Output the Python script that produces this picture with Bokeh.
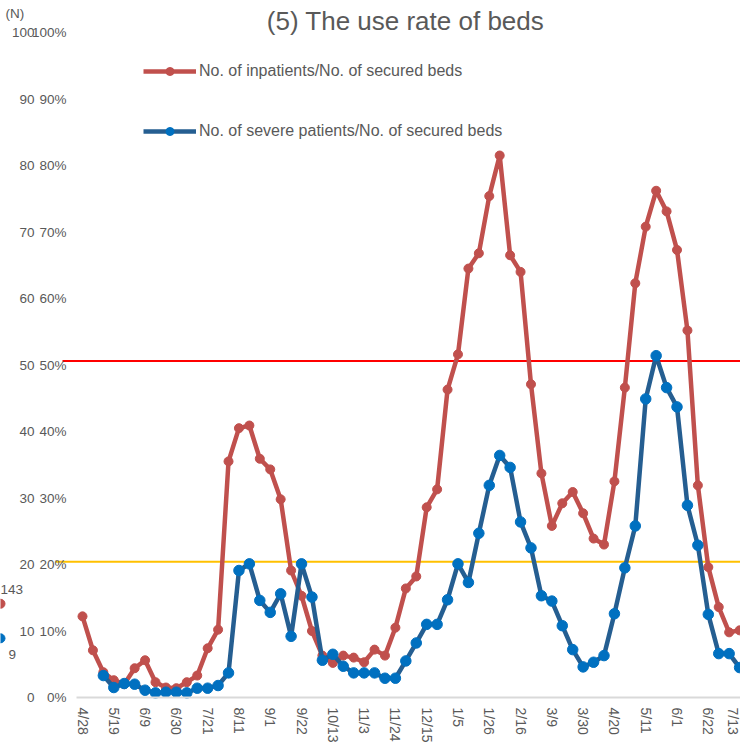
from bokeh.plotting import figure
from bokeh.models import (Range1d, LinearAxis, FixedTicker, Label,
                          Legend, LegendItem, ColumnDataSource)
from bokeh.embed import file_html
from bokeh.resources import INLINE

# ---- data -------------------------------------------------------------
date_labels = ["4/28", "5/19", "6/9", "6/30", "7/21", "8/11", "9/1", "9/22",
               "10/13", "11/3", "11/24", "12/15", "1/5", "1/26", "2/16", "3/9",
               "3/30", "4/20", "5/11", "6/1", "6/22", "7/13"]
label_weeks = [0, 3, 6, 9, 12, 15, 18, 21, 24, 27, 30, 33, 36, 39, 42, 45,
               48, 51, 54, 57, 60, 63]

weeks = list(range(64))
inpatient_rate = [12.2, 7.1, 3.8, 2.6, 2.0, 4.4, 5.6, 2.3, 1.5, 1.4, 2.3, 3.3,
                  7.4, 10.2, 35.5, 40.5, 40.9, 35.9, 34.3, 29.8, 19.1, 15.3,
                  10.0, 6.3, 5.2, 6.3, 6.0, 5.3, 7.2, 6.3, 10.5, 16.4, 18.2,
                  28.6, 31.3, 46.3, 51.6, 64.5, 66.8, 75.4, 81.5, 66.5, 64.0,
                  47.1, 33.7, 25.8, 29.2, 30.9, 27.7, 23.9, 23.0, 32.5, 46.6,
                  62.3, 70.8, 76.2, 73.1, 67.3, 55.2, 31.9, 19.6, 13.6, 9.8, 10.1]

severe_weeks = list(range(2, 64))
severe_rate = [3.3, 1.5, 2.1, 2.0, 1.1, 0.7, 0.8, 0.8, 0.7, 1.4, 1.4, 1.8,
               3.7, 19.1, 20.1, 14.6, 12.8, 15.6, 9.2, 20.1, 15.1, 5.6, 6.5,
               4.7, 3.7, 3.7, 3.7, 2.9, 2.9, 5.5, 8.2, 11.0, 11.0, 14.7, 20.1,
               17.3, 24.7, 31.9, 36.4, 34.6, 26.4, 22.5, 15.3, 14.5, 10.8, 7.2,
               4.6, 5.3, 6.3, 12.6, 19.5, 25.8, 44.9, 51.4, 46.6, 43.7, 28.9,
               22.9, 12.5, 6.6, 6.6, 4.5]

pct_ticks = [0, 10, 20, 30, 40, 50, 60, 70, 80, 90, 100]
pct_labels = ["0%", "10%", "20%", "30%", "40%", "50%", "60%", "70%", "80%", "90%", "100%"]
n_labels = ["0", "10", "20", "30", "40", "50", "60", "70", "80", "90", "100"]

threshold_high = 50.6
threshold_low = 20.4

series_names = ["No. of inpatients/No. of secured beds",
                "No. of severe patients/No. of secured beds"]
side_texts = ["143", "9"]
side_levels = [14.1, 8.9]

# ---- style / layout constants -------------------------------------------
FONT = "Liberation Sans"
GREY = "#595959"
RED = "#C0504D"
BLUE_LINE = "#255E91"
BLUE_DOT = "#0070C0"

FIG_W, FIG_H = 740, 750
PX_WEEK = 10.43          # horizontal pixels per week
X0_PX = 82               # canvas x of the first week
PX_PCT = 6.65            # vertical pixels per percentage point
Y0_PX = 697              # canvas y (from top) of 0 %

x_start = -X0_PX / PX_WEEK
x_end = (FIG_W - X0_PX) / PX_WEEK
y_end = Y0_PX / PX_PCT
y_start = -(FIG_H - Y0_PX) / PX_PCT

plot_left = x_start + 76 / PX_WEEK      # left edge of the plotting area
n_axis_at = x_start + 34 / PX_WEEK      # position of the count axis
red_line_from = x_start + 62 / PX_WEEK
yellow_line_from = x_start + 55 / PX_WEEK

# ---- figure -----------------------------------------------------------
p = figure(width=FIG_W, height=FIG_H, output_backend="svg", toolbar_location=None,
           x_range=Range1d(x_start, x_end), y_range=Range1d(y_start, y_end),
           min_border=0)
p.outline_line_color = None
p.xgrid.grid_line_color = None
p.ygrid.grid_line_color = None
p.background_fill_color = "white"
p.border_fill_color = "white"


def clean(axis):
    axis.axis_label = None
    axis.major_tick_out = 0
    axis.major_tick_in = 0
    axis.minor_tick_out = 0
    axis.minor_tick_in = 0
    axis.major_label_text_font = FONT
    axis.major_label_text_color = GREY


# x axis
xa = p.xaxis[0]
clean(xa)
xa.fixed_location = 0
xa.bounds = (plot_left, x_end)
xa.ticker = FixedTicker(ticks=label_weeks)
xa.major_label_overrides = {w: s for w, s in zip(label_weeks, date_labels)}
xa.major_label_orientation = "vertical"
xa.major_label_text_font_size = "14px"
xa.major_label_standoff = 10
xa.axis_line_color = "#D9D9D9"
xa.axis_line_width = 2

# percentage axis
ya = p.yaxis[0]
clean(ya)
ya.fixed_location = plot_left
ya.ticker = FixedTicker(ticks=pct_ticks)
ya.major_label_overrides = {t: s for t, s in zip(pct_ticks, pct_labels)}
ya.major_label_text_font_size = "13.5px"
ya.major_label_standoff = 10
ya.axis_line_color = None

# count axis
na = LinearAxis(ticker=FixedTicker(ticks=pct_ticks), fixed_location=n_axis_at)
clean(na)
na.major_label_overrides = {t: s for t, s in zip(pct_ticks, n_labels)}
na.major_label_text_font_size = "13.5px"
na.major_label_standoff = 0
na.axis_line_color = None
p.add_layout(na, "left")

# reference lines
p.segment(x0=[red_line_from], x1=[x_end], y0=[threshold_high], y1=[threshold_high],
          line_color="#FF0000", line_width=2)
p.segment(x0=[yellow_line_from], x1=[x_end], y0=[threshold_low], y1=[threshold_low],
          line_color="#FFC000", line_width=2)

# series
src_in = ColumnDataSource(dict(x=weeks, y=inpatient_rate))
src_sv = ColumnDataSource(dict(x=severe_weeks, y=severe_rate))

l1 = p.line("x", "y", source=src_in, line_color=RED, line_width=4.5)
m1 = p.scatter("x", "y", source=src_in, size=9, fill_color=RED, line_color=RED)
l2 = p.line("x", "y", source=src_sv, line_color=BLUE_LINE, line_width=4.5)
m2 = p.scatter("x", "y", source=src_sv, size=10.5, fill_color=BLUE_DOT, line_color=BLUE_DOT)

# partially visible markers at the left edge
p.scatter(x=[x_start, x_start], y=side_levels, size=9,
          fill_color=[RED, BLUE_DOT], line_color=[RED, BLUE_DOT])

legend = Legend(items=[LegendItem(label=series_names[0], renderers=[l1, m1]),
                       LegendItem(label=series_names[1], renderers=[l2, m2])],
                location=(143, 609), padding=0, spacing=40,
                glyph_width=53, glyph_height=20, label_height=20,
                label_standoff=3, label_text_font=FONT,
                label_text_font_size="16px", label_text_color=GREY,
                background_fill_alpha=0, border_line_alpha=0)
p.add_layout(legend, "center")

# texts
p.add_layout(Label(x=405, y=730, x_units="screen", y_units="screen",
                   text="(5) The use rate of beds", text_align="center",
                   text_baseline="middle", text_font=FONT,
                   text_font_size="26px", text_color=GREY))
p.add_layout(Label(x=5, y=737, x_units="screen", y_units="screen",
                   text="(N)", text_align="left", text_baseline="middle",
                   text_font=FONT, text_font_size="13.5px", text_color=GREY))
p.add_layout(Label(x=0, y=161, x_units="screen", y_units="screen",
                   text=side_texts[0], text_align="left", text_baseline="middle",
                   text_font=FONT, text_font_size="13.5px", text_color=GREY))
p.add_layout(Label(x=8, y=96, x_units="screen", y_units="screen",
                   text=side_texts[1], text_align="left", text_baseline="middle",
                   text_font=FONT, text_font_size="13.5px", text_color=GREY))

open("out.html", "w").write(file_html(p, INLINE))
